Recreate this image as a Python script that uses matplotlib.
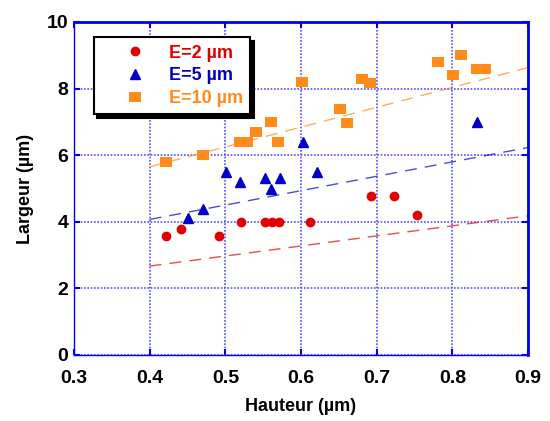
import matplotlib
matplotlib.use("Agg")
import matplotlib.pyplot as plt

# Data
x_e2 = [0.422, 0.441, 0.492, 0.521, 0.552, 0.562, 0.571, 0.612, 0.692, 0.723, 0.753]
y_e2 = [3.58, 3.78, 3.58, 3.98, 3.98, 3.98, 3.98, 3.98, 4.78, 4.78, 4.19]

x_e5 = [0.451, 0.471, 0.501, 0.520, 0.552, 0.561, 0.572, 0.603, 0.621, 0.832]
y_e5 = [4.10, 4.39, 5.49, 5.20, 5.30, 4.99, 5.30, 6.40, 5.49, 7.00]

x_e10 = [0.421, 0.471, 0.519, 0.528, 0.540, 0.561, 0.570, 0.601, 0.651, 0.661,
         0.681, 0.691, 0.781, 0.801, 0.812, 0.833, 0.843]
y_e10 = [5.80, 6.00, 6.40, 6.40, 6.70, 7.00, 6.40, 8.20, 7.40, 6.98,
         8.30, 8.18, 8.80, 8.40, 9.00, 8.60, 8.60]

trend_x = [0.40, 0.90]
trend_e2 = [2.67, 4.18]
trend_e5 = [4.07, 6.23]
trend_e10 = [5.65, 8.63]

labels = ["E=2 µm", "E=5 µm", "E=10 µm"]
x_ticks = [0.3, 0.4, 0.5, 0.6, 0.7, 0.8, 0.9]
y_ticks = [0, 2, 4, 6, 8, 10]

red = "#e00000"
blue = "#0000c8"
orange = "#ff8c1a"
axis_blue = "#0000ee"

plt.rcParams['font.family'] = ['Liberation Sans', 'DejaVu Sans']
plt.rcParams['font.weight'] = 'bold'

fig = plt.figure(figsize=(5.5, 4.21), dpi=100)
ax = fig.add_axes([0.1345, 0.1568, 0.8255, 0.791])

dash = (8.6, 5.8)
ax.plot(trend_x, trend_e2, color=red, lw=1, alpha=0.7, dashes=dash, zorder=2)
ax.plot(trend_x, trend_e5, color=blue, lw=1, alpha=0.7, dashes=dash, zorder=2)
ax.plot(trend_x, trend_e10, color=orange, lw=1, alpha=0.7, dashes=dash, zorder=2)

rect = [(-1.3, -1), (1.3, -1), (1.3, 1), (-1.3, 1), (-1.3, -1)]
ax.plot(x_e2, y_e2, 'o', color=red, ms=6, mec=red, label=labels[0], zorder=3, ls='none')
ax.plot(x_e5, y_e5, '^', color=blue, ms=6.8, mec=blue, label=labels[1], zorder=3, ls='none')
ax.plot(x_e10, y_e10, marker=rect, color=orange, ms=8.5, mec=orange, mew=0,
        label=labels[2], zorder=3, ls='none')

ax.set_xlim(0.3, 0.9)
ax.set_ylim(0, 10)
ax.set_xticks(x_ticks)
ax.set_yticks(y_ticks)
ax.set_xticklabels([f"{v:.1f}" for v in x_ticks])
ax.set_yticklabels([str(v) for v in y_ticks])

ax.grid(True, color="#5050ff", linestyle=(0, (1, 1)), linewidth=1.2, zorder=1)
ax.set_axisbelow(True)

for side in ['left', 'bottom']:
    ax.spines[side].set_color(axis_blue)
    ax.spines[side].set_linewidth(1.0)
for side in ['right', 'top']:
    ax.spines[side].set_color(axis_blue)
    ax.spines[side].set_linewidth(2.0)

ax.tick_params(direction='in', colors=axis_blue, length=4, width=1.5,
               labelcolor='black', labelsize=14, top=True, right=True)
ax.tick_params(axis='x', pad=11)
ax.tick_params(axis='y', pad=4)
for lab in ax.get_xticklabels() + ax.get_yticklabels():
    lab.set_fontweight('bold')

ax.set_xlabel("Hauteur (µm)", fontsize=13, fontweight='bold', labelpad=8)
ax.set_ylabel("Largeur (µm)", fontsize=13, fontweight='bold', labelpad=9)

leg = ax.legend(loc='upper left', bbox_to_anchor=(0.044, 0.954), frameon=True,
                fancybox=False, edgecolor='black', framealpha=1,
                shadow={'color': 'black', 'alpha': 1, 'ox': 2.5, 'oy': -2.5},
                prop={'size': 13, 'weight': 'bold'},
                labelcolor='markerfacecolor', handlelength=3.7,
                handletextpad=0.05, borderpad=0.4, labelspacing=0.32,
                borderaxespad=0, markerscale=1.0)
leg.get_frame().set_linewidth(1.5)
leg.get_frame().set_boxstyle('square', pad=0)
leg.set_zorder(5)

fig.savefig("out.png", dpi=100)
